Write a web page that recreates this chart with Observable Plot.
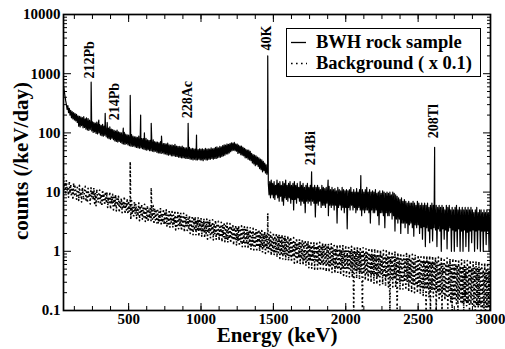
<!DOCTYPE html>
<html><head><meta charset="utf-8">
<script src="https://cdn.jsdelivr.net/npm/d3@7"></script>
<script src="https://cdn.jsdelivr.net/npm/@observablehq/plot@0.6"></script>
<style>
body{margin:0;background:#fff;}
#wrap{position:relative;width:505px;height:349px;font-family:"Liberation Serif","Times New Roman",serif;font-weight:bold;}
#legend{position:absolute;left:286px;top:28px;width:193px;height:47px;border:1px solid #000;background:#fff;}
#legend svg{display:block;}
#ytitle{position:absolute;left:21px;top:161px;transform:translate(-50%,-50%) rotate(-90deg);white-space:nowrap;font-size:21px;line-height:1;color:#000;}
</style></head><body>
<div id="wrap"><div id="chart"></div>
<div id="ytitle">counts (/keV/day)</div>
<div id="legend"><svg width="193" height="47" font-family="Liberation Serif, Times New Roman, serif" font-weight="bold" font-size="18.5px">
<line x1="4" x2="19" y1="13.5" y2="13.5" stroke="#000" stroke-width="1.3"/>
<line x1="4" x2="20" y1="34.5" y2="34.5" stroke="#000" stroke-width="1.6" stroke-dasharray="1.6,3.4"/>
<text x="29" y="19">BWH rock sample</text>
<text x="29" y="39.5">Background ( x 0.1)</text>
</svg></div>
</div>
<script>
// channel grid (keV)
const energyStart = 50, energyStep = 5;

// BWH rock sample, counts per keV per day, one value per 5 keV channel from 50 to 3000 keV
const rockCounts = [
620,520,420,350,300,250,290,220,260,200,
240,180,228,172,220,165,212,160,205,150,
195,130,190,126,186,133,182,122,188,124,
172,116,168,112,175,110,164,114,160,108,
154,102,150,104,146,98,152,96,142,100,
138,92,134,90,140,88,130,91,128,86,
123,82,120,80,126,78,116,81,114,77,
110,73,107,72,112,70,104,72,102,69,
100,66,97,65,102,64,95,66,93,63,
92,61,90,60,94,59,88,60,86,58,
86,57,84,56,88,55,82,56,80,54,
80,53,78,52,81,51,76,52,75,50,
75,50,73,49,76,48,71,49,70,47,
70,46,68,46,71,45,67,46,66,44,
66,44,65,43,67,42,63,43,62,41,
63,41,61,41,64,40,60,40,59,39,
59,39,58,38,60,38,57,38,56,37,
56,37,55,37,57,36,54,36,55,35,
54,36,53,35,55,35,52,36,54,35,
53,35,54,34,52,36,55,35,53,35,
54,36,53,36,56,37,54,36,55,37,
57,37,58,38,56,39,59,39,58,40,
61,41,63,42,62,44,65,44,64,46,
66,48,68,50,67,51,69,50,65,49,
65,45,62,46,60,43,60,42,57,41,
55,38,53,38,51,36,51,35,49,34,
45,31,43,30,42,28,41,29,39,27,
38,25,36,24,35,22,33,23,31,21,
29,20,26,14,9,15,8,16,9,14,
8,15,7.5,13,9,16,8,14,7,15,
8.5,13,7,15,6,14,8,16,7.5,13,
7,14,8,15,6.5,13,7.5,14,5,15,
7.5,13,6.5,14,8,12,7,15,6,13,
7,14,6.5,12,4.5,13,7,14,6.5,12,
7,13,6,14,7,12,6.5,13,3.8,12,
6.5,13,6,12,7,11,5.5,13,6,12,
6,11.5,5.5,12,6.5,11,4,12.5,6,11,
5.5,12,6,11,5,11.5,6,10.5,3,12,
5.5,11,6,10.5,5,12,5.5,11,4.5,10.5,
5.5,11,2.4,10.5,5.5,11,5,12,6,10,
5,11,5.5,10,4.5,11.5,5,10,5.5,11,
5,10.5,4,11,5,10,4.5,11,5,12,
5,10,4.5,11,3,10,5,10.5,4.5,10,
4.5,11,5,9.5,4,10,2.8,10.5,4.5,9.5,
4.5,10.5,4,10,2.5,9.5,4.5,10,4,9.5,
4,10,4.5,9,3.5,10,4,9.5,2.2,9,
3.5,8.5,3,8,3.5,7.5,2,8,3,7,
3,7.5,2.5,7,3,6.5,2,7,2.8,6.5,
3,6.5,2.5,7,1.8,6.5,2.8,6,2.5,7,
2.8,6.5,2,6,2.5,6.5,1.6,6,2.6,6.5,
1.2,6,2.5,6.5,2.2,5.5,1.4,6,2.4,6.5,
1.5,6,2.5,5.5,2.3,6,1.2,5.5,2.4,6,
2.2,5.5,1,6,2.4,5.5,1.6,5,2.3,6,
1.1,5.5,2.2,6,2.5,5,1,5.5,2.3,5,
1,5.5,2.2,6,1.2,5,2.4,5.5,1,5,
2.2,5.5,1,5,2.3,5.5,1.2,5,2.1,5.5,
1,5,2.2,5.5,1.4,5,2.3,4.5,1,5,
2.2,5.5,1.1,4.5,2.3,5,1,5,2.2,4.5,
1,5,2.2,4.5,1.3,5,2.2,4.5,1,5,
4.5
];
// Background (x 0.1), same channels
const backgroundCounts = [
18,11,14.5,9,16,10.5,12,8.2,15,9.5,
13.5,8.5,11,7.5,14,9,12.5,10,7.6,12,
11.5,7.2,13,8.5,10.2,6.8,12.2,9,7.5,11,
12.5,7.4,10,6.6,11.6,8,9.5,6.3,11.8,8.4,
10.5,7.5,12,6.4,9.8,5.9,11,8,6.6,10.2,
10.8,6.2,9,5.7,11,7.4,8.8,6,10,7,
9.6,5.5,8.2,6.6,10,5.2,8.6,6.2,9.2,5,
8.2,5.6,9,4.8,7.6,5.9,8.5,4.6,7.2,5.5,
8,4.5,7,5.2,8.4,4.3,6.6,5,7.8,4.2,
7,4.6,6.5,3.4,7.2,4.2,6,3.7,6.8,4.4,
6.4,3.6,5.5,4.2,6.6,3.3,5.8,4,6.2,3.5,
5.4,3.8,6.2,3.2,5.6,3.6,6,3.1,5.2,3.7,
5.8,3.2,5,3.5,5.9,2.9,5.3,3.4,4.8,3,
5.3,2.9,4.6,3.3,5.4,2.7,4.3,3.1,5.2,2.8,
4.6,3,5,2.6,4.4,2.9,5.1,2.5,4.2,3,
4.7,2.5,4.1,2.8,4.8,2.3,4,2.7,4.5,2.4,
4,2.6,4.5,2.2,3.8,2.5,4.4,2.1,3.7,2.6,
4.2,2.1,3.6,2.4,4.1,2,3.5,2.3,4,1.9,
3.5,2.3,3.9,1.9,3.4,2.2,3.8,1.8,3.3,2.2,
3.7,1.8,3.2,2.1,3.6,1.7,3.1,2,3.5,1.6,
3.1,2,3.5,1.65,3,1.9,3.4,1.55,2.9,1.95,
3.3,1.6,2.9,1.8,3.2,1.5,2.8,1.75,3.1,1.45,
2.8,1.7,3.1,1.45,2.7,1.6,3,1.4,2.6,1.65,
2.95,1.4,2.6,1.55,2.9,1.3,2.5,1.5,2.8,1.28,
2.5,1.45,2.75,1.25,2.4,1.4,2.7,1.2,2.35,1.38,
2.6,1.2,2.3,1.35,2.55,1.1,2.2,1.3,2.5,1.08,
2.2,1.28,2.45,1.05,2.15,1.22,2.4,1,2.1,1.2,
2.3,1,2.05,1.15,2.25,0.95,2,1.1,2.2,0.92,
1.95,1.1,2.15,0.9,1.9,1.05,2.1,0.85,1.85,1.02,
2.05,0.85,1.8,0.98,2,0.8,1.75,0.95,1.95,0.76,
1.7,0.92,1.9,0.74,1.65,0.9,1.85,0.7,1.6,0.88,
1.8,0.7,1.55,0.84,1.75,0.66,1.5,0.8,1.7,0.63,
1.45,0.8,1.65,0.62,1.42,0.77,1.6,0.6,1.38,0.75,
1.6,0.58,1.36,0.72,1.55,0.56,1.32,0.7,1.5,0.53,
1.3,0.68,1.48,0.52,1.27,0.66,1.45,0.5,1.25,0.64,
1.44,0.5,1.24,0.63,1.42,0.48,1.22,0.61,1.4,0.47,
1.2,0.6,1.38,0.46,1.18,0.58,1.36,0.45,1.16,0.57,
1.34,0.44,1.14,0.56,1.33,0.42,1.12,0.55,1.3,0.41,
1.1,0.54,1.3,0.4,1.08,0.52,1.28,0.39,1.06,0.5,
1.26,0.38,1.05,0.5,1.25,0.37,1.04,0.48,1.22,0.36,
1.02,0.1,1.2,0.47,1,0.35,1.18,0.46,0.98,0.34,
1.17,0.45,0.97,0.1,1.15,0.44,0.95,0.32,1.13,0.43,
0.93,0.31,1.12,0.42,0.92,0.3,1.1,0.41,0.9,0.29,
1.08,0.4,0.88,0.28,1.07,0.39,0.87,0.27,1.05,0.38,
0.86,0.27,1.04,0.37,0.84,0.26,1.02,0.36,0.83,0.25,
1,0.1,0.82,0.35,0.99,0.25,0.8,0.34,0.97,0.24,
0.79,0.1,0.96,0.33,0.78,0.23,0.94,0.32,0.77,0.23,
0.93,0.31,0.76,0.22,0.92,0.3,0.75,0.21,0.9,0.29,
0.74,0.21,0.89,0.28,0.73,0.2,0.88,0.27,0.72,0.2,
0.87,0.26,0.71,0.19,0.86,0.25,0.7,0.18,0.85,0.24,
0.69,0.1,0.84,0.23,0.68,0.17,0.83,0.1,0.67,0.22,
0.82,0.17,0.66,0.21,0.81,0.1,0.65,0.2,0.8,0.16,
0.64,0.19,0.79,0.1,0.63,0.18,0.78,0.15,0.62,0.18,
0.77,0.1,0.61,0.17,0.76,0.14,0.6,0.1,0.75,0.16,
0.59,0.15,0.74,0.13,0.58,0.1,0.73,0.15,0.57,0.14,
0.72,0.13,0.56,0.1,0.71,0.14,0.55,0.12,0.7,0.13,
0.54,0.1,0.69,0.13,0.53,0.12,0.68,0.12,0.52,0.1,
0.67,0.12,0.51,0.11,0.66,0.12,0.5,0.1,0.65,0.11,
0.49,0.11,0.64,0.1,0.48,0.11,0.63,0.11,0.47,0.1,
0.6
];
// gamma lines in the rock spectrum
const rockPeakEnergy = [209,241,294,338,352,463,511,583,609,656,727,911,969,1461,1764,1878,2104,2614];
const rockPeakCounts = [180,720,165,214,150,120,430,200,100,145,88,145,92,2000,22,16,19,57];
// lines in the background spectrum
const bgPeakEnergy = [511,656,1461];
const bgPeakCounts = [33,12,4.4];
// peak annotations
const peakLabels = ["212Pb","214Pb","228Ac","40K","214Bi","208Tl"];
const peakLabelEnergy = [233,399,910,1453,1757,2603];
const peakLabelCounts = [830,163,176,2470,28.4,81];
// axes
const xTicks = [500,1000,1500,2000,2500,3000];
const yTicks = [0.1,1,10,100,1000,10000];
const xMinorTicks = d3.range(125, 3001, 125);
const yMinorTicks = [0.1,1,10,100,1000].flatMap(d => [2,3,4,5,6,7,8,9].map(m => m*d));

const channel = (counts) => counts.map((c, i) => ({e: energyStart + i*energyStep, c}));
const rock = channel(rockCounts).concat(rockPeakEnergy.map((e, i) => ({e, c: rockPeakCounts[i]}))).sort((a,b) => a.e - b.e);
const background = channel(backgroundCounts).concat(bgPeakEnergy.map((e, i) => ({e, c: bgPeakCounts[i]}))).sort((a,b) => a.e - b.e);
const labels = peakLabels.map((t, i) => ({t, e: peakLabelEnergy[i], c: peakLabelCounts[i]}));

const font = "Liberation Serif, Times New Roman, serif";
const chart = Plot.plot({
  width: 505, height: 349,
  marginTop: 14, marginRight: 15, marginBottom: 39, marginLeft: 63,
  style: {fontFamily: font, fontWeight: "bold", background: "#fff", color: "#000", overflow: "visible"},
  x: {domain: [50, 3000], label: null},
  y: {type: "log", domain: [0.1, 10000], label: null},
  marks: [
    Plot.line(background, {x: "e", y: "c", stroke: "#000", strokeWidth: 1.6, strokeDasharray: "1.6,1.9,1.6,2.8,1.6,2.3,1.6,3.3", strokeLinecap: "butt", clip: true}),
    Plot.line(rock, {x: "e", y: "c", stroke: "#000", strokeWidth: 1.2, clip: true}),
    Plot.text(labels, {x: "e", y: "c", text: "t", rotate: -90, textAnchor: "start", fontSize: 14, fontWeight: "bold", fill: "#000"}),
    Plot.frame({stroke: "#000", strokeWidth: 1.7}),
    // inward ticks
    Plot.axisX({anchor: "bottom", ticks: xMinorTicks, tickSize: -4, fill: "none", label: null}),
    Plot.axisX({anchor: "bottom", ticks: xTicks, tickSize: -7, fill: "none", label: null}),
    Plot.axisX({anchor: "top", ticks: xMinorTicks, tickSize: -4, fill: "none", label: null}),
    Plot.axisX({anchor: "top", ticks: xTicks, tickSize: -7, fill: "none", label: null}),
    Plot.axisY({anchor: "left", ticks: yMinorTicks, tickSize: -4, fill: "none", label: null}),
    Plot.axisY({anchor: "left", ticks: yTicks, tickSize: -8, fill: "none", label: null}),
    Plot.axisY({anchor: "right", ticks: yMinorTicks, tickSize: -4, fill: "none", label: null}),
    Plot.axisY({anchor: "right", ticks: yTicks, tickSize: -8, fill: "none", label: null}),
    // tick labels
    Plot.axisX({anchor: "bottom", ticks: xTicks, tickSize: 0, tickPadding: 3, tickFormat: d => String(d), fontSize: 15, fontWeight: "bold", label: null}),
    Plot.axisY({anchor: "left", ticks: yTicks, tickSize: 0, tickPadding: 3, tickFormat: d => String(d), fontSize: 15, fontWeight: "bold", label: null}),
    // x axis title
    Plot.text(["Energy (keV)"], {frameAnchor: "bottom", dy: 31, fontSize: 21, fontWeight: "bold", fill: "#000"})
  ]
});
document.getElementById("chart").appendChild(chart);
</script>
</body></html>
